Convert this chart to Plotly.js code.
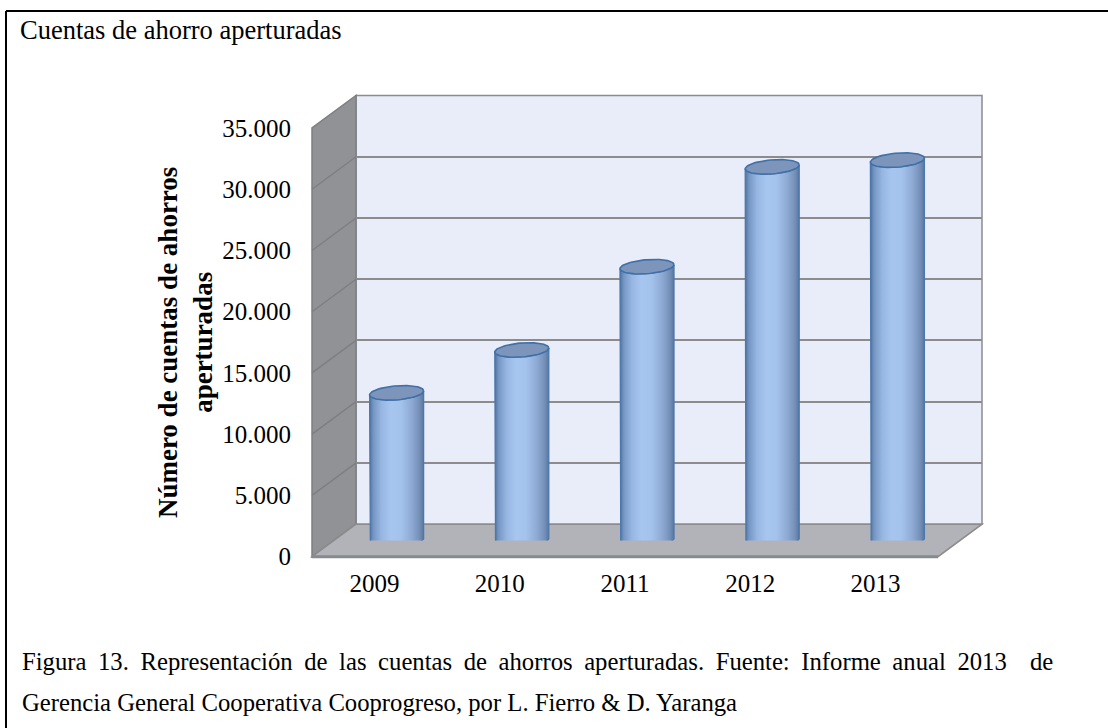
<!DOCTYPE html>
<html><head><meta charset="utf-8">
<script src="https://cdn.plot.ly/plotly-3.0.1.min.js"></script>
<style>html,body{margin:0;padding:0;background:#fff}#chart{width:1108px;height:728px}</style>
</head><body><div id="chart"></div>
<script>
// ---- data ----
const years = ['2009', '2010', '2011', '2012', '2013'];
const cuentas = [12050, 15550, 22350, 30500, 31050];
const yTickValues = [0, 5000, 10000, 15000, 20000, 25000, 30000, 35000];
const chartTitle = 'Cuentas de ahorro aperturadas';
const yTitle = 'Número de cuentas de ahorros<br>aperturadas';
const captionLines = [
  'Figura 13. Representación de las cuentas de ahorros aperturadas. Fuente: Informe anual 2013  de',
  'Gerencia General Cooperativa Cooprogreso, por L. Fierro & D. Yaranga'
];

// ---- geometry / style ----
const W = 1108, H = 728;
const FONT = '"Liberation Serif", "Times New Roman", serif';
const YMAX = 35000;
const front = {l: 312, r: 938, t: 128, b: 556.7};
const DX = 44, DY = 32.5;
const back = {l: front.l + DX, r: front.r + DX, t: front.t - DY, b: front.b - DY};
const mid = {l: front.l + DX / 2, r: front.r + DX / 2, t: front.t - DY / 2, b: front.b - DY / 2};
const px = v => v / W, py = v => 1 - v / H;
const dom = box => ({x: [px(box.l), px(box.r)], y: [py(box.b), py(box.t)]});

const n = years.length;
const pxPerX = (front.r - front.l) / n;
const pxPerY = (front.b - front.t) / YMAX;
const RX = 27, RY = 7, SHEAR = 2, NSEG = 40;

function ell(i, v, t) {
  return [i + RX * Math.cos(t) / pxPerX, v + (RY * Math.sin(t) + SHEAR * Math.cos(t)) / pxPerY];
}

const traces = [];
traces.push({type: 'bar', x: years.map((_, i) => i), y: cuentas, xaxis: 'x', yaxis: 'y',
  marker: {color: 'rgba(0,0,0,0)'}, hoverinfo: 'skip', showlegend: false});

cuentas.forEach((v, i) => {
  const xs = [], ys = [];
  let p = ell(i, v, Math.PI); xs.push(p[0]); ys.push(p[1]);
  for (let k = 0; k <= NSEG; k++) { p = ell(i, 0, Math.PI + Math.PI * k / NSEG); xs.push(p[0]); ys.push(p[1]); }
  for (let k = 0; k <= NSEG; k++) { p = ell(i, v, 2 * Math.PI - Math.PI * k / NSEG); xs.push(p[0]); ys.push(p[1]); }
  traces.push({
    type: 'scatter', mode: 'lines', x: xs, y: ys, xaxis: 'x2', yaxis: 'y2',
    fill: 'toself', fillcolor: '#95b3de',
    fillgradient: {type: 'horizontal', colorscale: [
      [0, '#4f72a0'], [0.07, '#7596c3'], [0.22, '#97b6e2'], [0.4, '#a7c6ef'],
      [0.58, '#a3c2ec'], [0.78, '#8eaad4'], [0.92, '#7590b8'], [1, '#5a77a2']]},
    line: {color: '#4a78ad', width: 1.3}, hoverinfo: 'skip', showlegend: false
  });
  const ex = [], ey = [];
  for (let k = 0; k <= 2 * NSEG; k++) { p = ell(i, v, 2 * Math.PI * k / (2 * NSEG)); ex.push(p[0]); ey.push(p[1]); }
  traces.push({
    type: 'scatter', mode: 'lines', x: ex, y: ey, xaxis: 'x2', yaxis: 'y2',
    fill: 'toself', fillcolor: '#7d95bb', line: {color: '#3f70a8', width: 1.6},
    hoverinfo: 'skip', showlegend: false
  });
});

traces.push({type: 'bar', x: years.map((_, i) => i), y: cuentas, xaxis: 'x3', yaxis: 'y3',
  marker: {color: 'rgba(0,0,0,0)'}, hoverinfo: 'skip', showlegend: false});

// ---- decorative 3D walls ----
const P = (x, y) => px(x) + ',' + py(y);
const shapes = [
  {type: 'rect', xref: 'paper', yref: 'paper', layer: 'below',
   x0: px(back.l), x1: px(back.r), y0: py(back.b), y1: py(back.t),
   fillcolor: '#e9edf9', line: {color: '#8c8c8c', width: 1.5}},
  {type: 'path', xref: 'paper', yref: 'paper', layer: 'below',
   path: 'M' + P(front.l, front.b) + 'L' + P(front.l, front.t) + 'L' + P(back.l, back.t) + 'L' + P(back.l, back.b) + 'Z',
   fillcolor: '#909296', line: {color: '#7d7f83', width: 1.5}},
  {type: 'path', xref: 'paper', yref: 'paper', layer: 'below',
   path: 'M' + P(front.l, front.b) + 'L' + P(front.r, front.b) + 'L' + P(back.r, back.b) + 'L' + P(back.l, back.b) + 'Z',
   fillcolor: '#b1b3b9', line: {color: '#8c8c8c', width: 1.5}},
  {type: 'line', xref: 'paper', yref: 'paper', layer: 'below',
   x0: px(front.l), x1: px(front.r), y0: py(front.b), y1: py(front.b),
   line: {color: '#878a8f', width: 3}}
];
yTickValues.forEach(v => {
  if (v <= 0 || v >= YMAX) return;
  const yf = front.b - v * pxPerY, yb = back.b - v * pxPerY;
  shapes.push({type: 'line', xref: 'paper', yref: 'paper', layer: 'below',
    x0: px(front.l), y0: py(yf), x1: px(back.l), y1: py(yb),
    line: {color: '#7d7f83', width: 1.5}});
});
shapes.push({type: 'line', xref: 'paper', yref: 'paper', x0: px(6), x1: px(6), y0: py(11), y1: 0,
  line: {color: '#000', width: 2}});
shapes.push({type: 'line', xref: 'paper', yref: 'paper', x0: px(6), x1: 1, y0: py(11), y1: py(11),
  line: {color: '#000', width: 2}});

const hidden = {showgrid: false, zeroline: false, showline: false, showticklabels: false, ticks: '', fixedrange: true};

const layout = {
  width: W, height: H,
  margin: {l: 0, r: 0, t: 0, b: 0, pad: 0},
  paper_bgcolor: '#ffffff', plot_bgcolor: 'rgba(0,0,0,0)',
  separators: ',.',
  showlegend: false,
  font: {family: FONT, color: '#000'},
  title: {text: chartTitle, x: px(20), xref: 'paper', xanchor: 'left',
          y: py(30), yref: 'paper', yanchor: 'middle',
          font: {family: FONT, size: 26.5, color: '#000'}},
  xaxis: Object.assign({}, hidden, {domain: dom(back).x, range: [-0.5, n - 0.5], anchor: 'y'}),
  yaxis: Object.assign({}, hidden, {domain: dom(back).y, range: [0, YMAX], anchor: 'x',
    tickmode: 'array', tickvals: yTickValues, showgrid: true, gridcolor: '#8c8c8c', gridwidth: 2}),
  xaxis2: Object.assign({}, hidden, {domain: dom(mid).x, range: [-0.5, n - 0.5], anchor: 'y2'}),
  yaxis2: Object.assign({}, hidden, {domain: dom(mid).y, range: [0, YMAX], anchor: 'x2'}),
  xaxis3: {domain: dom(front).x, range: [-0.5, n - 0.5], anchor: 'y3',
    tickmode: 'array', tickvals: years.map((_, i) => i), ticktext: years,
    showgrid: false, zeroline: false, showline: false, ticks: '', ticklabelstandoff: 9,
    tickfont: {family: FONT, size: 25, color: '#000'}, fixedrange: true},
  yaxis3: {domain: dom(front).y, range: [0, YMAX], anchor: 'x3',
    tickmode: 'array', tickvals: yTickValues, tickformat: ',d',
    showgrid: false, zeroline: false, showline: false, ticks: '', ticklabelstandoff: 20,
    tickfont: {family: FONT, size: 25, color: '#000'}, fixedrange: true,
    title: {text: yTitle, standoff: 1, font: {family: FONT, size: 27, weight: 'bold', color: '#000'}}},
  shapes: shapes,
  annotations: captionLines.map((t, k) => ({
    text: k === 0 ? '<span style="word-spacing:5.4px">' + t + '</span>' : t,
    xref: 'paper', yref: 'paper', x: px(20), y: py(661 + 41 * k),
    xanchor: 'left', yanchor: 'middle', showarrow: false,
    font: {family: FONT, size: 24.7, color: '#000'}
  }))
};

Plotly.newPlot('chart', traces, layout, {displayModeBar: false, staticPlot: true});
</script>
</body></html>
